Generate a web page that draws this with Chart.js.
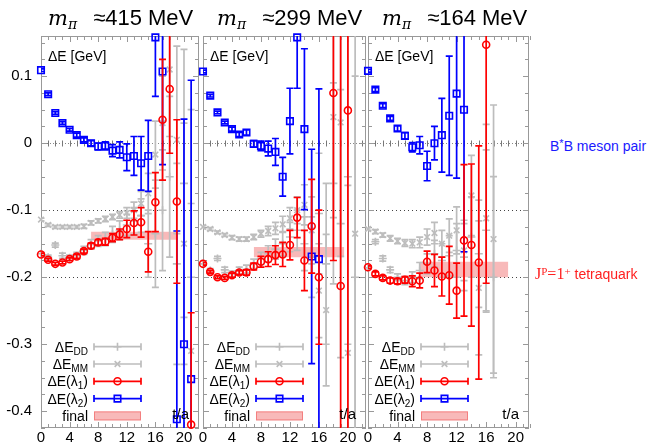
<!DOCTYPE html>
<html lang="en">
  <head>
    <meta charset="UTF-8" />
    <title>B*B tetraquark energy levels</title>
    <style>
      body { margin: 0; background: #fff; font-family: "Liberation Sans", Arial, sans-serif; }
      #fig { position: relative; width: 650px; height: 446px; overflow: hidden; }
      #fig canvas { position: absolute; top: 0; }
      .title { position: absolute; top: 5px; font-size: 22px; line-height: 26px; white-space: nowrap; }
      .title .m { font-family: "DejaVu Serif", "Liberation Serif", serif; font-style: italic; font-size: 21px; }
      .title sub { font-size: 14px; vertical-align: -4px; margin-right: 16px; }
      .note { position: absolute; font-size: 14px; line-height: 16px; white-space: nowrap; }
      .note sup { font-size: 11px; vertical-align: 4px; }
      .note .jp { font-family: "Liberation Serif", serif; font-size: 16px; }
    </style>
  </head>
  <body>
    <div id="fig">
      <canvas id="c415" width="210" height="446" style="left:0px"></canvas>
      <canvas id="c299" width="190" height="446" style="left:190px"></canvas>
      <canvas id="c164" width="190" height="446" style="left:355px"></canvas>

      <div class="title" style="left:48px"><span class="m">m<sub>π</sub></span>≈415 MeV</div>
      <div class="title" style="left:217px"><span class="m">m<sub>π</sub></span>≈299 MeV</div>
      <div class="title" style="left:382px"><span class="m">m<sub>π</sub></span>≈164 MeV</div>

      <div class="note" style="left:550px; top:135px; color:#1a1aff">B<sup>*</sup>B meson pair</div>
      <div class="note" style="left:535px; top:263px; color:#ff2020"><span class="jp">J<sup>P</sup>=1<sup>+</sup></span> tetraquark</div>
    </div>

    <script src="https://cdn.jsdelivr.net/npm/chart.js@4.4.1/dist/chart.umd.min.js"></script>
    <script>
      // time slices t/a
      var t = [0, 1, 2, 3, 4, 5, 6, 7, 8, 9, 10, 11, 12, 13, 14, 15, 16, 17, 18, 19, 20, 21];

      // m_pi ~ 415 MeV
      var l1_415 = [-0.166, -0.174, -0.180, -0.178, -0.173, -0.169, -0.161, -0.153, -0.148, -0.147, -0.141, -0.136, -0.128, -0.119, -0.118, -0.162, -0.088, 0.035, 0.081, -0.087, null, -0.420];
      var l1Err_415 = [0.002, 0.002, 0.002, 0.002, 0.002, 0.003, 0.003, 0.004, 0.004, 0.005, 0.006, 0.008, 0.013, 0.018, 0.022, 0.030, 0.044, 0.090, 0.096, 0.122, null, 0.167];
      var l2_415 = [0.109, 0.073, 0.045, 0.030, 0.020, 0.012, 0.005, 0.000, -0.005, -0.004, -0.011, -0.010, -0.021, -0.019, -0.030, -0.019, 0.158, 0.107, null, -0.412, -0.300, -0.352];
      var l2Err_415 = [0.002, 0.002, 0.002, 0.002, 0.002, 0.003, 0.003, 0.004, 0.005, 0.006, 0.009, 0.012, 0.020, 0.029, 0.040, 0.053, 0.088, 0.139, null, 0.281, 0.336, 0.446];
      var mm_415 = [-0.114, -0.122, -0.125, -0.125, -0.125, -0.125, -0.124, -0.119, -0.116, -0.113, -0.110, -0.107, -0.104, -0.100, -0.090, -0.075, -0.017, 0.030, 0.110, 0.005, -0.150, -0.310];
      var mmErr_415 = [0.002, 0.002, 0.002, 0.002, 0.002, 0.002, 0.003, 0.003, 0.003, 0.004, 0.004, 0.005, 0.008, 0.012, 0.018, 0.030, 0.050, 0.070, 0.100, 0.140, 0.180, 0.220];
      var dd_415 = [-0.165, -0.170, -0.152, -0.168, -0.171, -0.168, -0.160, -0.151, -0.146, -0.143, -0.136, -0.130, -0.122, -0.116, -0.108, -0.150, -0.135, -0.100, -0.050, -0.180, -0.060, -0.200];
      var ddErr_415 = [0.002, 0.003, 0.003, 0.004, 0.004, 0.005, 0.006, 0.007, 0.008, 0.010, 0.012, 0.014, 0.016, 0.020, 0.025, 0.050, 0.080, 0.090, 0.120, 0.150, 0.200, 0.250];

      // m_pi ~ 299 MeV
      var l1_299 = [-0.180, -0.192, -0.200, -0.201, -0.197, -0.193, -0.193, -0.184, -0.177, -0.173, -0.167, -0.166, -0.152, -0.111, -0.175, -0.124, -0.200, null, 0.075, -0.213, 0.049];
      var l1Err_299 = [0.002, 0.002, 0.002, 0.002, 0.003, 0.003, 0.004, 0.005, 0.008, 0.011, 0.014, 0.018, 0.022, 0.030, 0.045, 0.070, 0.100, null, 0.250, 0.500, 0.500];
      var l2_299 = [0.107, 0.071, 0.046, 0.031, 0.021, 0.013, 0.016, -0.001, -0.004, -0.008, -0.013, -0.050, 0.033, 0.158, 0.021, -0.169, -0.173];
      var l2Err_299 = [0.002, 0.002, 0.002, 0.002, 0.003, 0.003, 0.004, 0.005, 0.007, 0.011, 0.020, 0.029, 0.049, 0.076, 0.120, 0.160, 0.254];
      var mm_299 = [-0.125, -0.128, -0.133, -0.137, -0.141, -0.143, -0.143, -0.140, -0.135, -0.131, -0.127, -0.121, -0.112, -0.100, -0.092, -0.130, -0.220, -0.249, 0.039, 0.031, -0.313, -0.135];
      var mmErr_299 = [0.002, 0.002, 0.002, 0.002, 0.003, 0.003, 0.003, 0.004, 0.005, 0.007, 0.009, 0.012, 0.016, 0.020, 0.030, 0.050, 0.070, 0.113, 0.150, 0.200, 0.250, 0.300];
      var dd_299 = [-0.180, -0.190, -0.172, -0.189, -0.195, -0.190, -0.188, -0.180, -0.172, -0.165, -0.158, -0.150, -0.140, -0.130, -0.150, -0.170, -0.105, -0.180, -0.060, -0.120, -0.050, -0.200];
      var ddErr_299 = [0.002, 0.003, 0.003, 0.004, 0.004, 0.005, 0.006, 0.007, 0.009, 0.012, 0.015, 0.018, 0.022, 0.030, 0.040, 0.060, 0.090, 0.120, 0.150, 0.200, 0.250, 0.300];

      // m_pi ~ 164 MeV
      var l1_164 = [-0.185, -0.195, -0.201, -0.205, -0.206, -0.204, -0.206, -0.205, -0.177, -0.190, -0.199, -0.197, -0.220, -0.145, -0.152, -0.178, 0.147];
      var l1Err_164 = [0.002, 0.003, 0.003, 0.004, 0.004, 0.005, 0.008, 0.011, 0.016, 0.024, 0.029, 0.043, 0.041, 0.113, 0.121, 0.174, 0.356];
      var l2_164 = [0.108, 0.080, 0.056, 0.037, 0.022, 0.011, -0.006, -0.003, -0.034, 0.000, 0.012, 0.041, 0.074, 0.050];
      var l2Err_164 = [0.002, 0.003, 0.003, 0.003, 0.004, 0.005, 0.007, 0.013, 0.022, 0.025, 0.055, 0.089, 0.126, 0.212];
      var mm_164 = [-0.128, -0.132, -0.137, -0.142, -0.146, -0.149, -0.150, -0.148, -0.140, -0.134, -0.150, -0.138, -0.130, -0.160, -0.078, -0.216, -0.112, -0.143];
      var mmErr_164 = [0.002, 0.003, 0.003, 0.004, 0.004, 0.005, 0.006, 0.008, 0.012, 0.016, 0.020, 0.025, 0.035, 0.045, 0.060, 0.100, 0.140, 0.200];
      var dd_164 = [-0.186, -0.147, -0.172, -0.189, -0.200, -0.205, -0.200, -0.190, -0.180, -0.165, -0.175, -0.168, -0.160, -0.170, -0.140, -0.165, -0.130, -0.200];
      var ddErr_164 = [0.002, 0.003, 0.004, 0.004, 0.005, 0.006, 0.008, 0.012, 0.015, 0.020, 0.025, 0.030, 0.040, 0.050, 0.060, 0.080, 0.120, 0.150];

      // final fit bands: centre, half width, fit range in t/a
      var bandMid = [-0.138, -0.1625, -0.1885];
      var bandHalf = [0.006, 0.0075, 0.0115];
      var bandFrom = [7, 7, 7];
      var bandTo = [19, 19.5, 19];

      var yTicks = [0.1, 0, -0.1, -0.2, -0.3, -0.4];
      var xTicks = [0, 4, 8, 12, 16, 20];

      var RED = "#ff0000", BLUE = "#0000ff", GREY = "#bdbdbd", BAND = "rgba(238,80,80,0.4)";

      Chart.defaults.font.family = '"Liberation Sans", Arial, sans-serif';

      function points(vals, errs) {
        var pts = [], e = [];
        vals.forEach(function (v, i) {
          if (v !== null) {
            pts.push({ x: t[i], y: v });
            e.push(errs[i]);
          }
        });
        return { pts: pts, e: e };
      }

      // vertical error bars with caps, drawn just under each dataset's markers
      var errorBars = {
        id: "errorBars",
        beforeDatasetDraw: function (chart, args) {
          var ds = chart.data.datasets[args.index];
          if (!ds.errors) return;
          var ctx = chart.ctx, a = chart.chartArea, x = chart.scales.x, y = chart.scales.y;
          ctx.save();
          ctx.beginPath();
          ctx.rect(a.left, a.top, a.right - a.left, a.bottom - a.top);
          ctx.clip();
          ctx.strokeStyle = ds.borderColor;
          ctx.lineWidth = 1.7;
          ds.data.forEach(function (p, i) {
            var e = ds.errors[i];
            var px = x.getPixelForValue(p.x);
            var hi = y.getPixelForValue(p.y + e), lo = y.getPixelForValue(p.y - e);
            ctx.beginPath();
            ctx.moveTo(px, hi); ctx.lineTo(px, lo);
            ctx.moveTo(px - 3.5, hi); ctx.lineTo(px + 3.5, hi);
            ctx.moveTo(px - 3.5, lo); ctx.lineTo(px + 3.5, lo);
            ctx.stroke();
          });
          ctx.restore();
        }
      };

      // frame with inward ticks and the reference lines at 0, -0.1, -0.2
      var frame = {
        id: "frame",
        beforeDatasetsDraw: function (chart) {
          var ctx = chart.ctx, a = chart.chartArea, x = chart.scales.x, y = chart.scales.y;
          ctx.save();
          ctx.beginPath();
          ctx.rect(a.left, a.top, a.right - a.left, a.bottom - a.top);
          ctx.clip();
          ctx.lineWidth = 1;
          ctx.strokeStyle = "#888";
          ctx.setLineDash([1, 2]);
          var y0 = Math.round(y.getPixelForValue(0)) + 0.5;
          ctx.beginPath(); ctx.moveTo(a.left, y0); ctx.lineTo(a.right, y0); ctx.stroke();
          ctx.setLineDash([]);
          ctx.strokeStyle = "#777";
          for (var i = 0; i <= 22; i++) {
            var px = Math.round(x.getPixelForValue(i)) + 0.5;
            ctx.beginPath(); ctx.moveTo(px, y0 - 3); ctx.lineTo(px, y0 + 3); ctx.stroke();
          }
          ctx.strokeStyle = "#444";
          ctx.setLineDash([1, 3]);
          [-0.1, -0.2].forEach(function (v) {
            var py = Math.round(y.getPixelForValue(v)) + 0.5;
            ctx.beginPath(); ctx.moveTo(a.left, py); ctx.lineTo(a.right, py); ctx.stroke();
          });
          ctx.restore();

          ctx.save();
          ctx.strokeStyle = "#999";
          ctx.lineWidth = 1;
          ctx.strokeRect(a.left + 0.5, a.top + 0.5, a.right - a.left - 1, a.bottom - a.top - 1);
          ctx.beginPath();
          for (var k = 0; k <= 22; k++) {
            var tx = Math.round(x.getPixelForValue(k)) + 0.5;
            var len = k % 4 === 0 ? 6 : 4;
            ctx.moveTo(tx, a.top); ctx.lineTo(tx, a.top + len);
            ctx.moveTo(tx, a.bottom); ctx.lineTo(tx, a.bottom - len);
          }
          for (var j = -17; j <= 6; j++) {
            var ty = Math.round(y.getPixelForValue(j * 0.025)) + 0.5;
            var l2 = j % 4 === 0 ? 6 : 4;
            ctx.moveTo(a.left, ty); ctx.lineTo(a.left + l2, ty);
            ctx.moveTo(a.right, ty); ctx.lineTo(a.right - l2, ty);
          }
          ctx.stroke();
          ctx.restore();
        }
      };

      // axis caption, t/a and the key in the lower left
      var keyRows = [
        { text: "ΔE", sub: "DD", tail: "", color: GREY, style: "cross", r: 4 },
        { text: "ΔE", sub: "MM", tail: "", color: GREY, style: "crossRot", r: 4 },
        { text: "ΔE(λ", sub: "1", tail: ")", color: RED, style: "circle", r: 3.5 },
        { text: "ΔE(λ", sub: "2", tail: ")", color: BLUE, style: "rect", r: 4.6 },
        { text: "final", sub: "", tail: "", color: BAND, style: null }
      ];
      var key = {
        id: "key",
        afterDatasetsDraw: function (chart) {
          var ctx = chart.ctx, a = chart.chartArea;
          ctx.save();
          ctx.fillStyle = "#000";
          ctx.textBaseline = "alphabetic";
          ctx.font = '14px "Liberation Sans", Arial, sans-serif';
          ctx.fillText("ΔE [GeV]", a.left + 7, 61);
          ctx.font = '15px "Liberation Sans", Arial, sans-serif';
          ctx.textAlign = "right";
          ctx.fillText("t/a", a.right - 10, 419);
          ctx.textAlign = "left";

          keyRows.forEach(function (row, i) {
            var cy = 346.7 + i * 17.3;
            var right = a.left + 47;
            var big = '14px "Liberation Sans", Arial, sans-serif';
            var small = '10px "Liberation Sans", Arial, sans-serif';
            ctx.font = big;
            var wTail = ctx.measureText(row.tail).width;
            var wText = ctx.measureText(row.text).width;
            ctx.font = small;
            var wSub = ctx.measureText(row.sub).width;
            var x0 = right - wTail - wSub - wText;
            ctx.fillStyle = "#000";
            ctx.font = big;
            ctx.fillText(row.text, x0, cy + 5);
            ctx.fillText(row.tail, x0 + wText + wSub, cy + 5);
            ctx.font = small;
            ctx.fillText(row.sub, x0 + wText, cy + 8);

            var s0 = a.left + 53, s1 = a.left + 100;
            if (!row.style) {
              ctx.fillStyle = row.color;
              ctx.fillRect(s0, cy - 4.5, s1 - s0, 9);
              ctx.strokeStyle = "rgba(238,80,80,0.55)";
              ctx.lineWidth = 1;
              ctx.strokeRect(s0 + 0.5, cy - 4, s1 - s0 - 1, 8);
              return;
            }
            ctx.strokeStyle = row.color;
            ctx.lineWidth = 1.7;
            ctx.beginPath();
            ctx.moveTo(s0, cy); ctx.lineTo(s1, cy);
            ctx.moveTo(s0, cy - 3.5); ctx.lineTo(s0, cy + 3.5);
            ctx.moveTo(s1, cy - 3.5); ctx.lineTo(s1, cy + 3.5);
            ctx.stroke();
            ctx.fillStyle = "rgba(0,0,0,0)";
            ctx.lineWidth = 1.6;
            Chart.helpers.drawPoint(ctx, { pointStyle: row.style, radius: row.r, rotation: 0, borderWidth: 1.6 }, (s0 + s1) / 2, cy);
          });
          ctx.restore();
        }
      };

      function marker(label, vals, errs, color, style, radius) {
        var s = points(vals, errs);
        return {
          label: label,
          data: s.pts,
          errors: s.e,
          borderColor: color,
          backgroundColor: "rgba(0,0,0,0)",
          pointStyle: style,
          pointRadius: radius,
          pointBorderWidth: 1.6,
          showLine: false,
          clip: 8
        };
      }

      function panel(id, n, series, opts) {
        var datasets = [
          marker("ΔE(λ1)", series[0], series[1], RED, "circle", 3.5),
          marker("ΔE(λ2)", series[2], series[3], BLUE, "rect", 4.6),
          marker("ΔE_MM", series[4], series[5], GREY, "crossRot", 4),
          marker("ΔE_DD", series[6], series[7], GREY, "cross", 4),
          {
            label: "final",
            type: "line",
            data: [
              { x: bandFrom[n], y: bandMid[n] + bandHalf[n] },
              { x: bandTo[n], y: bandMid[n] + bandHalf[n] }
            ],
            showLine: true,
            borderWidth: 0,
            pointRadius: 0,
            backgroundColor: BAND,
            fill: { value: bandMid[n] - bandHalf[n] }
          }
        ];

        new Chart(document.getElementById(id), {
          type: "scatter",
          data: { datasets: datasets },
          options: {
            responsive: false,
            animation: false,
            events: [],
            layout: { padding: { left: opts.padLeft, right: opts.padRight, top: 36, bottom: 0 } },
            plugins: { legend: { display: false }, tooltip: { enabled: false } },
            scales: {
              x: {
                type: "linear",
                min: 0,
                max: opts.xMax,
                grid: { display: false, drawTicks: false, tickLength: 0 },
                border: { display: false },
                afterFit: function (s) { s.height = 18; },
                ticks: {
                  stepSize: 1,
                  autoSkip: false,
                  maxRotation: 0,
                  padding: 1,
                  color: "#000",
                  font: { size: 15 },
                  callback: function (v) { return xTicks.indexOf(v) >= 0 ? String(v) : ""; }
                }
              },
              y: {
                type: "linear",
                min: -0.425,
                max: 0.16,
                display: opts.showY,
                grid: { display: false, drawTicks: false, tickLength: 0 },
                border: { display: false },
                afterFit: function (s) { if (opts.showY) s.width = 41; },
                ticks: {
                  stepSize: 0.025,
                  autoSkip: false,
                  padding: 9,
                  color: "#000",
                  font: { size: 15 },
                  callback: function (v) {
                    var r = Math.round(v * 10) / 10;
                    return Math.abs(v - r) < 1e-6 && yTicks.indexOf(r) >= 0 ? String(r) : "";
                  }
                }
              }
            }
          },
          plugins: [frame, errorBars, key]
        });
      }

      panel("c415", 0, [l1_415, l1Err_415, l2_415, l2Err_415, mm_415, mmErr_415, dd_415, ddErr_415],
        { padLeft: 0, padRight: 11, xMax: 22.1, showY: true });
      panel("c299", 1, [l1_299, l1Err_299, l2_299, l2Err_299, mm_299, mmErr_299, dd_299, ddErr_299],
        { padLeft: 13, padRight: 14, xMax: 22.5, showY: false });
      panel("c164", 2, [l1_164, l1Err_164, l2_164, l2Err_164, mm_164, mmErr_164, dd_164, ddErr_164],
        { padLeft: 13, padRight: 16, xMax: 21.8, showY: false });
    </script>
  </body>
</html>
